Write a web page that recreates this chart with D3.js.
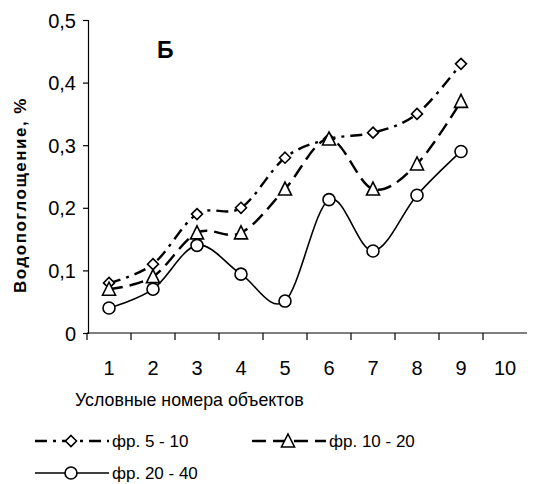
<!DOCTYPE html>
<html>
<head>
<meta charset="utf-8">
<script src="https://cdn.jsdelivr.net/npm/d3@7"></script>
<style>
	body{margin:0;background:#fff;}
	text{font-family:Arial,"Liberation Sans",sans-serif;fill:#000;}
</style>
</head>
<body>
<div id="chart_div"></div>
<script>
////////////////////////////////////////
////////////////////////////////////////

var objects = [1,2,3,4,5,6,7,8,9,10];
var fr5_10  = [0.08,0.11,0.19,0.20,0.28,0.31,0.32,0.35,0.43];
var fr10_20 = [0.07,0.09,0.16,0.16,0.23,0.31,0.23,0.27,0.37];
var fr20_40 = [0.04,0.07,0.14,0.094,0.051,0.213,0.131,0.22,0.29];
var yTicks  = [0,0.1,0.2,0.3,0.4,0.5];

var chart_w = 547;
var chart_h = 484;

var svg = d3.select('#chart_div').append('svg')
	.attr('width',chart_w)
	.attr('height',chart_h);

var x = d3.scaleBand()
	.domain(objects)
	.range([87,527]);

var y = d3.scaleLinear()
	.domain([0,0.5])
	.range([333,20]);

////////////////////////////////////////
// axes
////////////////////////////////////////

var yAxis = svg.append('g')
	.attr('transform','translate(88,0)')
	.call(d3.axisLeft(y)
		.tickValues(yTicks)
		.tickSize(5)
		.tickPadding(7)
		.tickFormat(function(d){ return d===0 ? '0' : d3.format('.1f')(d).replace('.',','); }));

var xAxis = svg.append('g')
	.attr('transform','translate(0,333)')
	.call(d3.axisBottom(x)
		.tickSize(0)
		.tickPadding(0));

[yAxis,xAxis].forEach(function(a){
	a.select('.domain').attr('stroke','#000').attr('stroke-width',1.2);
	a.selectAll('.tick line').attr('stroke','#000').attr('stroke-width',1.2);
	a.selectAll('text').attr('font-size',20).attr('font-family','Arial, "Liberation Sans", sans-serif');
});
xAxis.select('.domain').attr('d','M87,0H527');
xAxis.selectAll('.tick text').attr('dy',null).attr('y',42);
yAxis.selectAll('.tick text').attr('dy','0.35em');

// category boundary ticks below the x axis
svg.append('g').selectAll('line')
	.data(objects)
	.enter().append('line')
	.attr('x1',function(d){ return x(d); })
	.attr('x2',function(d){ return x(d); })
	.attr('y1',333)
	.attr('y2',340)
	.attr('stroke','#000')
	.attr('stroke-width',1.2);

svg.append('text')
	.attr('transform','translate(26,195) rotate(-90)')
	.attr('text-anchor','middle')
	.attr('font-size',17)
	.attr('font-weight','bold')
	.attr('letter-spacing',1.5)
	.text('Водопоглощение, %');

svg.append('text')
	.attr('x',75)
	.attr('y',406)
	.attr('font-size',17.8)
	.text('Условные номера объектов');

svg.append('text')
	.attr('x',157)
	.attr('y',58)
	.attr('font-size',23)
	.attr('font-weight','bold')
	.text('Б');

////////////////////////////////////////
// series
////////////////////////////////////////

var series = [
	{name:'фр. 5 - 10', values:fr5_10, dash:'12,6,3,6', width:2.4, marker:'diamond'},
	{name:'фр. 10 - 20', values:fr10_20, dash:'14,7', width:2.4, marker:'triangle'},
	{name:'фр. 20 - 40', values:fr20_40, dash:null, width:1.6, marker:'circle'}
];

var line = d3.line()
	.x(function(d,i){ return x(objects[i])+x.bandwidth()/2; })
	.y(function(d){ return y(d); })
	.curve(d3.curveCardinal.tension(0));

function drawMarker(g,type,cx,cy){
	if(type==='diamond'){
		g.append('path')
			.attr('d','M'+cx+','+(cy-5.5)+'L'+(cx+5.5)+','+cy+'L'+cx+','+(cy+5.5)+'L'+(cx-5.5)+','+cy+'Z')
			.attr('fill','#fff').attr('stroke','#000').attr('stroke-width',1.6);
	}
	else if(type==='triangle'){
		g.append('path')
			.attr('d','M'+cx+','+(cy-7)+'L'+(cx+6.5)+','+(cy+6)+'L'+(cx-6.5)+','+(cy+6)+'Z')
			.attr('fill','#fff').attr('stroke','#000').attr('stroke-width',1.6);
	}
	else{
		g.append('circle')
			.attr('cx',cx).attr('cy',cy).attr('r',6)
			.attr('fill','#fff').attr('stroke','#000').attr('stroke-width',1.6);
	}
}

series.forEach(function(s){
	var g = svg.append('g');
	g.append('path')
		.datum(s.values)
		.attr('d',line)
		.attr('fill','none')
		.attr('stroke','#000')
		.attr('stroke-width',s.width)
		.attr('stroke-dasharray',s.dash);
	s.values.forEach(function(v,i){
		drawMarker(g,s.marker,x(objects[i])+x.bandwidth()/2,y(v));
	});
});

////////////////////////////////////////
// legend
////////////////////////////////////////

var legendPos = [[35,441],[252,441],[35,473]];

series.forEach(function(s,i){
	var lx = legendPos[i][0], ly = legendPos[i][1];
	var g = svg.append('g');
	g.append('line')
		.attr('x1',lx).attr('x2',lx+74)
		.attr('y1',ly).attr('y2',ly)
		.attr('stroke','#000')
		.attr('stroke-width',s.width)
		.attr('stroke-dasharray',s.dash);
	drawMarker(g,s.marker,lx+36,ly);
	g.append('text')
		.attr('x',lx+77)
		.attr('y',ly+6)
		.attr('font-size',17)
		.text(s.name);
});
</script>
</body>
</html>
